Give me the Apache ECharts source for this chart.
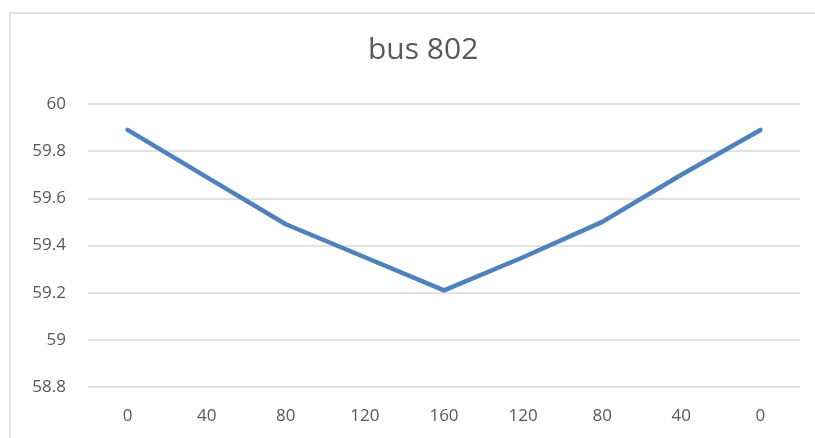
<!DOCTYPE html>
<html>
<head>
<meta charset="utf-8">
<script src="https://cdn.jsdelivr.net/npm/echarts@6/dist/echarts.min.js"></script>
<style>
  html, body { margin: 0; padding: 0; background: #ffffff; overflow: hidden; }
  #chart { width: 815px; height: 438px; }
</style>
</head>
<body>
<div id="chart"></div>
<script>
// Distance along the feeder (out to bus 802 and back) and the value measured there
const distances = ['0', '40', '80', '120', '160', '120', '80', '40', '0'];
const busValues = [59.89, 59.69, 59.49, 59.35, 59.21, 59.35, 59.50, 59.70, 59.89];
const yTicks = { min: 58.8, max: 60, step: 0.2 };
const chartTitle = 'bus 802';

const chart = echarts.init(document.getElementById('chart'), null, { renderer: 'canvas' });

// Chart frame: only its left and top edges fall inside the page
const frameStyle = { stroke: '#d9d9d9', lineWidth: 1.5 };

chart.setOption({
  backgroundColor: '#ffffff',
  animation: false,
  graphic: [
    { type: 'line', shape: { x1: 10, y1: 13, x2: 815, y2: 13 }, style: frameStyle, silent: true, z: -1 },
    { type: 'line', shape: { x1: 10, y1: 13, x2: 10, y2: 438 }, style: frameStyle, silent: true, z: -1 }
  ],
  title: {
    text: chartTitle,
    left: 363,
    top: 30,
    textStyle: {
      fontFamily: 'Open Sans',
      fontSize: 30,
      fontWeight: 'normal',
      color: '#595959'
    }
  },
  grid: { left: 88, right: 15, top: 104, bottom: 51, containLabel: false },
  xAxis: {
    type: 'category',
    data: distances,
    boundaryGap: true,
    axisLine: { show: false },
    axisTick: { show: false },
    splitLine: { show: false },
    axisLabel: {
      margin: 21,
      fontFamily: 'Open Sans',
      fontSize: 17,
      color: '#595959'
    }
  },
  yAxis: {
    type: 'value',
    min: yTicks.min,
    max: yTicks.max,
    interval: yTicks.step,
    axisLine: { show: false },
    axisTick: { show: false },
    splitLine: { lineStyle: { color: '#d9d9d9', width: 1.5 } },
    axisLabel: {
      margin: 22,
      fontFamily: 'Open Sans',
      fontSize: 17,
      color: '#595959',
      formatter: v => String(parseFloat(v.toFixed(1)))
    }
  },
  series: [{
    type: 'line',
    data: busValues,
    showSymbol: false,
    symbol: 'none',
    lineStyle: { color: '#4f81bd', width: 4.5, cap: 'round', join: 'round' },
    itemStyle: { color: '#4f81bd' }
  }]
});
</script>
</body>
</html>
